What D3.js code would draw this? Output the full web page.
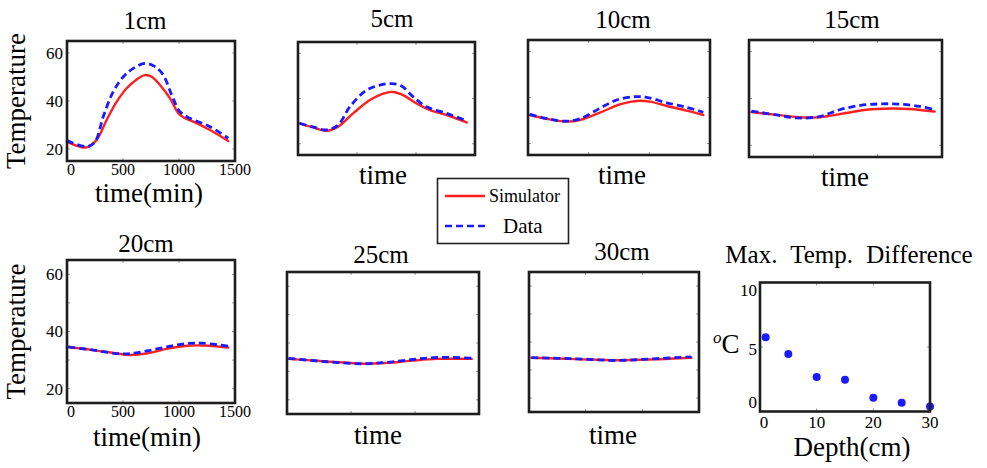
<!DOCTYPE html>
<html><head><meta charset="utf-8">
<script src="https://cdn.jsdelivr.net/npm/d3@7"></script>
<style>
body{margin:0;background:#fff}
svg text{font-family:"Liberation Serif","DejaVu Serif","Times New Roman",serif;fill:#000}
</style>
</head><body>
<svg id="c" width="987" height="468" font-family="Liberation Serif, DejaVu Serif, serif"></svg>
<script>
// ---------------- DATA ----------------
const panelTitles = ["1cm","5cm","10cm","15cm","20cm","25cm","30cm"];
const timeTicks = [0,500,1000,1500];
const tempTicksTop = [20,40,60];
const tempTicksBottom = [20,30,40,50,60];
const tempTickLabels = [20,40,60];

// [time (min), temperature]
const sim1 = [[0,23.0],[176,20.7],[265,23.8],[354,32.1],[444,39.7],[533,45.3],[622,49.0],[696,50.8],[756,50.1],[830,46.7],[920,41.1],[994,34.9],[1039,33.2],[1128,31.4],[1277,27.9],[1440,23.3]];
const dat1 = [[0,23.5],[176,21.0],[250,23.0],[324,33.5],[413,43.9],[503,50.1],[592,53.6],[696,55.7],[786,54.3],[860,50.8],[935,42.5],[1009,35.5],[1098,32.8],[1277,29.3],[1440,24.5]];
const sim5 = [[14,29.0],[127,27.2],[241,25.7],[340,27.5],[467,33.4],[609,39.3],[722,42.2],[806,42.9],[891,41.5],[1005,37.8],[1118,34.9],[1260,32.7],[1430,29.4]];
const dat5 = [[14,29.0],[127,27.4],[241,26.1],[340,28.2],[439,36.3],[581,43.7],[694,45.9],[793,46.6],[878,45.5],[976,40.7],[1090,36.3],[1260,33.4],[1430,30.1]];
const sim10 = [[14,32.4],[179,30.5],[317,29.5],[427,30.2],[592,33.4],[757,37.0],[895,38.5],[1005,38.2],[1143,36.3],[1308,34.3],[1445,32.4]];
const dat10 = [[14,32.7],[179,30.6],[317,29.7],[427,30.7],[592,35.3],[730,38.9],[867,40.3],[977,40.1],[1143,37.7],[1308,35.7],[1445,33.6]];
const sim15 = [[19,34.2],[213,33.0],[420,31.9],[549,32.0],[757,33.8],[912,35.2],[1094,35.7],[1249,35.5],[1443,34.4]];
const dat15 = [[19,34.6],[213,33.0],[368,31.7],[549,32.3],[705,35.2],[860,37.0],[1016,37.7],[1171,37.6],[1327,36.6],[1443,35.2]];
const sim20 = [[12,34.6],[235,33.5],[444,32.3],[562,31.8],[711,32.3],[890,33.9],[1069,35.0],[1217,35.1],[1440,34.4]];
const dat20 = [[12,34.6],[235,33.5],[444,32.3],[562,32.3],[711,33.2],[890,34.6],[1069,35.8],[1217,35.9],[1440,34.9]];
const sim25 = [[12,34.4],[312,33.5],[598,32.7],[780,33.0],[962,33.7],[1170,34.4],[1443,34.4]];
const dat25 = [[12,34.6],[312,33.4],[598,32.7],[780,33.2],[962,34.1],[1170,34.9],[1443,34.7]];
const sim30 = [[21,34.4],[418,33.9],[771,33.5],[1094,33.8],[1433,34.4]];
const dat30 = [[21,34.4],[418,34.0],[771,33.4],[1094,34.0],[1433,34.7]];

const depthCm = [1,5,10,15,20,25,30];
const maxDiff = [5.75,4.46,2.68,2.47,1.06,0.67,0.39];
const depthTicks = [0,10,20,30];
const diffTicks = [0,5,10];

const legendLabels = ["Simulator","Data"];

// ---------------- LAYOUT ----------------
const FONT = "Liberation Serif, DejaVu Serif, serif";
const svg = d3.select("#c");
const RED = "#ff1f1f", BLUE = "#1a1aff";
const seriesSim = [sim1,sim5,sim10,sim15,sim20,sim25,sim30];
const seriesDat = [dat1,dat5,dat10,dat15,dat20,dat25,dat30];

const layout = [
  {x0:67, x1:235, y0:41, y1:161, tx:145, ty:29,  lx:149, ly:202, xl:"time(min)", labels:true, tlBase:175, row:0},
  {x0:298,x1:475, y0:42, y1:155, tx:392, ty:27,  lx:383, ly:184, xl:"time", row:0},
  {x0:528,x1:710, y0:40, y1:155, tx:623, ty:28,  lx:622, ly:184, xl:"time", row:0},
  {x0:749,x1:942, y0:40, y1:157, tx:852, ty:28,  lx:845, ly:186, xl:"time", row:0},
  {x0:67, x1:235, y0:260,y1:403, tx:146, ty:252, lx:147, ly:446, xl:"time(min)", labels:true, tlBase:417, row:1},
  {x0:287,x1:479, y0:272,y1:414, tx:381, ty:263, lx:378, ly:444, xl:"time", row:1},
  {x0:529,x1:699, y0:272,y1:412, tx:622, ty:260, lx:613, ly:444, xl:"time", row:1}
];

function txt(g){ return g.append("text").attr("font-family",FONT); }

function innerTicks(g, x, y, xt, yt, x0, x1, y0, y1){
  const tl = 3;
  g.selectAll(null).data(xt).enter().append("line")
    .attr("x1", d=>x(d)).attr("x2", d=>x(d)).attr("y1", y0).attr("y2", y0+tl)
    .attr("stroke","#999").attr("stroke-width",1);
  g.selectAll(null).data(xt).enter().append("line")
    .attr("x1", d=>x(d)).attr("x2", d=>x(d)).attr("y1", y1).attr("y2", y1-tl)
    .attr("stroke","#999").attr("stroke-width",1);
  g.selectAll(null).data(yt).enter().append("line")
    .attr("x1", x0).attr("x2", x0+tl).attr("y1", d=>y(d)).attr("y2", d=>y(d))
    .attr("stroke","#999").attr("stroke-width",1);
  g.selectAll(null).data(yt).enter().append("line")
    .attr("x1", x1).attr("x2", x1-tl).attr("y1", d=>y(d)).attr("y2", d=>y(d))
    .attr("stroke","#999").attr("stroke-width",1);
}

layout.forEach((p,i)=>{
  const g = svg.append("g");
  const x = d3.scaleLinear().domain([0,1500]).range([p.x0,p.x1]);
  const y = d3.scaleLinear().domain([15,65]).range([p.y1,p.y0]);
  innerTicks(g, x, y, timeTicks.slice(1,3), p.row===0?tempTicksTop:tempTicksBottom, p.x0,p.x1,p.y0,p.y1);

  const line = d3.line().x(d=>x(d[0])).y(d=>y(d[1])).curve(d3.curveCatmullRom.alpha(0.5));
  g.append("path").attr("d", line(seriesSim[i])).attr("fill","none")
    .attr("stroke",RED).attr("stroke-width",2.4).attr("stroke-linecap","round");
  g.append("path").attr("d", line(seriesDat[i])).attr("fill","none")
    .attr("stroke",BLUE).attr("stroke-width",2.8).attr("stroke-dasharray","7,4");

  g.append("rect").attr("x",p.x0).attr("y",p.y0).attr("width",p.x1-p.x0).attr("height",p.y1-p.y0)
    .attr("fill","none").attr("stroke","#1e1e1e").attr("stroke-width",2.6);

  txt(g).attr("x",p.tx).attr("y",p.ty).attr("text-anchor","middle")
    .attr("font-size",25).text(panelTitles[i]);
  txt(g).attr("x",p.lx).attr("y",p.ly).attr("text-anchor","middle")
    .attr("font-size",27).text(p.xl);

  if(p.labels){
    g.selectAll(null).data(timeTicks).enter().append("text").attr("font-family",FONT)
      .attr("x", d=>x(d)+ (d===0?4:0)).attr("y", p.tlBase).attr("text-anchor","middle")
      .attr("font-size",16).text(d=>d);
    g.selectAll(null).data(tempTickLabels).enter().append("text").attr("font-family",FONT)
      .attr("x", p.x0-4).attr("y", d=>y(d)).attr("dy","0.35em").attr("text-anchor","end")
      .attr("font-size",17).text(d=>d);
    txt(g).attr("transform",`translate(25,${(p.y0+p.y1)/2}) rotate(-90)`)
      .attr("text-anchor","middle").attr("font-size",27).text("Temperature");
  }
});

// ---------------- LEGEND ----------------
const lg = svg.append("g");
lg.append("rect").attr("x",437.5).attr("y",178.5).attr("width",131).attr("height",65)
  .attr("fill","#fff").attr("stroke","#222").attr("stroke-width",1.6);
lg.append("line").attr("x1",445).attr("x2",485).attr("y1",196).attr("y2",196)
  .attr("stroke",RED).attr("stroke-width",2.4);
lg.append("line").attr("x1",445).attr("x2",489).attr("y1",226).attr("y2",226)
  .attr("stroke",BLUE).attr("stroke-width",2.6).attr("stroke-dasharray","7,4");
txt(lg).attr("x",489).attr("y",202).attr("font-size",18).text(legendLabels[0]);
txt(lg).attr("x",503).attr("y",233).attr("font-size",21).text(legendLabels[1]);

// ---------------- SCATTER ----------------
const sp = {x0:760, x1:930, y0:282.5, y1:411.5};
const sg = svg.append("g");
const sx = d3.scaleLinear().domain([0,30]).range([sp.x0, sp.x1]);
const sy = d3.scaleLinear().domain([0,10]).range([sp.y1, sp.y0]);
innerTicks(sg, sx, sy, [10,20], [5], sp.x0, sp.x1, sp.y0, sp.y1);
sg.selectAll("circle").data(depthCm).enter().append("circle")
  .attr("cx", d=>sx(d)).attr("cy", (d,i)=>sy(maxDiff[i])).attr("r",4)
  .attr("fill",BLUE);
sg.append("rect").attr("x",sp.x0).attr("y",sp.y0).attr("width",sp.x1-sp.x0).attr("height",sp.y1-sp.y0)
  .attr("fill","none").attr("stroke","#1e1e1e").attr("stroke-width",2.6);
txt(sg).attr("x",849).attr("y",263).attr("text-anchor","middle")
  .attr("font-size",25).attr("word-spacing","7px").text("Max. Temp. Difference");
sg.selectAll(null).data(depthTicks).enter().append("text").attr("font-family",FONT)
  .attr("x", d=>sx(d)+(d===0?4:0)).attr("y",428).attr("text-anchor","middle")
  .attr("font-size",17).text(d=>d);
sg.selectAll(null).data(diffTicks).enter().append("text").attr("font-family",FONT)
  .attr("x", sp.x0-3).attr("y", d=>sy(d) + (d===0?-9:(d===10?8:2)))
  .attr("dy","0.35em").attr("text-anchor","end").attr("font-size",17).text(d=>d);
txt(sg).attr("x",852).attr("y",456).attr("text-anchor","middle")
  .attr("font-size",27).text("Depth(cm)");
const oc = txt(sg).attr("x",713).attr("y",353).attr("font-size",27);
oc.append("tspan").attr("font-style","italic").attr("font-size",17).attr("dy",-10).text("o");
oc.append("tspan").attr("dy",10).text("C");
</script>
</body></html>
